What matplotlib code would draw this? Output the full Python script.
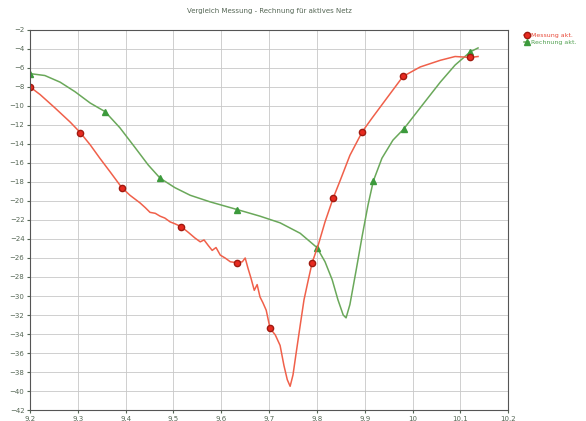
import numpy as np
import matplotlib.pyplot as plt

# frequency axis (MHz) and tick labels
x_ticks = [9.2, 9.3, 9.4, 9.5, 9.6, 9.7, 9.8, 9.9, 10.0, 10.1, 10.2]
x_labels = ['9.2', '9.3', '9.4', '9.5', '9.6', '9.7', '9.8', '9.9', '10', '10.1', '10.2']
y_ticks = list(range(-2, -43, -2))

# measured curve
mess_f = [9.200, 9.221, 9.252, 9.284, 9.305, 9.326, 9.346, 9.367, 9.392, 9.409,
          9.430, 9.441, 9.451, 9.462, 9.472, 9.482, 9.493, 9.503, 9.516, 9.531,
          9.545, 9.556, 9.564, 9.573, 9.581, 9.589, 9.598, 9.608, 9.619, 9.633,
          9.644, 9.650, 9.656, 9.662, 9.669, 9.675, 9.681, 9.687, 9.694, 9.702,
          9.713, 9.723, 9.731, 9.738, 9.744, 9.750, 9.756, 9.765, 9.773, 9.782,
          9.790, 9.803, 9.817, 9.834, 9.849, 9.869, 9.895, 9.915, 9.943, 9.980,
          10.016, 10.058, 10.089, 10.121, 10.137]
mess_db = [-8.0, -8.8, -10.2, -11.7, -12.8, -14.1, -15.5, -16.9, -18.6, -19.4,
           -20.2, -20.7, -21.2, -21.3, -21.6, -21.8, -22.2, -22.4, -22.7, -23.3,
           -23.9, -24.3, -24.1, -24.7, -25.2, -24.9, -25.7, -26.0, -26.4, -26.5,
           -26.4, -26.0, -27.1, -28.1, -29.4, -28.8, -30.1, -30.7, -31.5, -33.4,
           -34.1, -35.2, -37.3, -38.8, -39.5, -38.3, -36.2, -33.1, -30.4, -28.3,
           -26.5, -24.6, -22.2, -19.7, -17.8, -15.2, -12.7, -11.3, -9.4, -6.9,
           -5.9, -5.2, -4.8, -4.9, -4.8]
mess_marks = [0, 4, 8, 18, 29, 39, 50, 53, 56, 59, 63]

# calculated curve
rech_f = [9.200, 9.231, 9.263, 9.294, 9.326, 9.357, 9.388, 9.420, 9.447, 9.472,
          9.503, 9.535, 9.577, 9.633, 9.681, 9.723, 9.765, 9.800, 9.817, 9.832,
          9.844, 9.855, 9.861, 9.869, 9.882, 9.895, 9.907, 9.918, 9.936, 9.959,
          9.982, 10.016, 10.058, 10.089, 10.121, 10.137]
rech_db = [-6.6, -6.8, -7.5, -8.5, -9.7, -10.6, -12.3, -14.4, -16.2, -17.6,
           -18.6, -19.4, -20.1, -20.9, -21.6, -22.3, -23.4, -24.9, -26.4, -28.3,
           -30.4, -32.0, -32.3, -30.9, -27.3, -23.6, -20.4, -17.9, -15.5, -13.6,
           -12.4, -10.2, -7.5, -5.7, -4.3, -3.9]
rech_marks = [0, 5, 9, 13, 17, 27, 30, 34]

fig = plt.figure(figsize=(5.86, 4.21), dpi=100)
ax = fig.add_axes([0.0512, 0.026, 0.816, 0.903])

ax.plot(rech_f, rech_db, color='#6aa85a', lw=1.1, marker='^', ms=4.5,
        markevery=rech_marks, mfc='#3c9a3c', mec='#3c9a3c', label='Rechnung akt.')
ax.plot(mess_f, mess_db, color='#f0604a', lw=1.1, marker='o', ms=4.5,
        markevery=mess_marks, mfc='#e82a20', mec='#a01a10', label='Messung akt.')

ax.set_xlim(9.2, 10.2)
ax.set_ylim(-42, -2)
ax.set_xticks(x_ticks)
ax.set_xticklabels(x_labels)
ax.set_yticks(y_ticks)
ax.tick_params(labelsize=5, colors='#556655', length=2, pad=2)
ax.grid(True, color='#c8c8c8', lw=0.6)
for s in ax.spines.values():
    s.set_color('#555555')

fig.text(0.46, 0.975, 'Vergleich Messung - Rechnung für aktives Netz',
         ha='center', va='center', fontsize=5, color='#556655')

# legend outside on the right
h, l = ax.get_legend_handles_labels()
leg = fig.legend(h[::-1], l[::-1], loc='upper left', bbox_to_anchor=(0.885, 0.935),
                 fontsize=4.5, frameon=False, handlelength=0.8, handletextpad=0.3,
                 labelspacing=0.2)
for t, c in zip(leg.get_texts(), ['#e84a3a', '#50a050']):
    t.set_color(c)

fig.savefig('out.png', dpi=100)
